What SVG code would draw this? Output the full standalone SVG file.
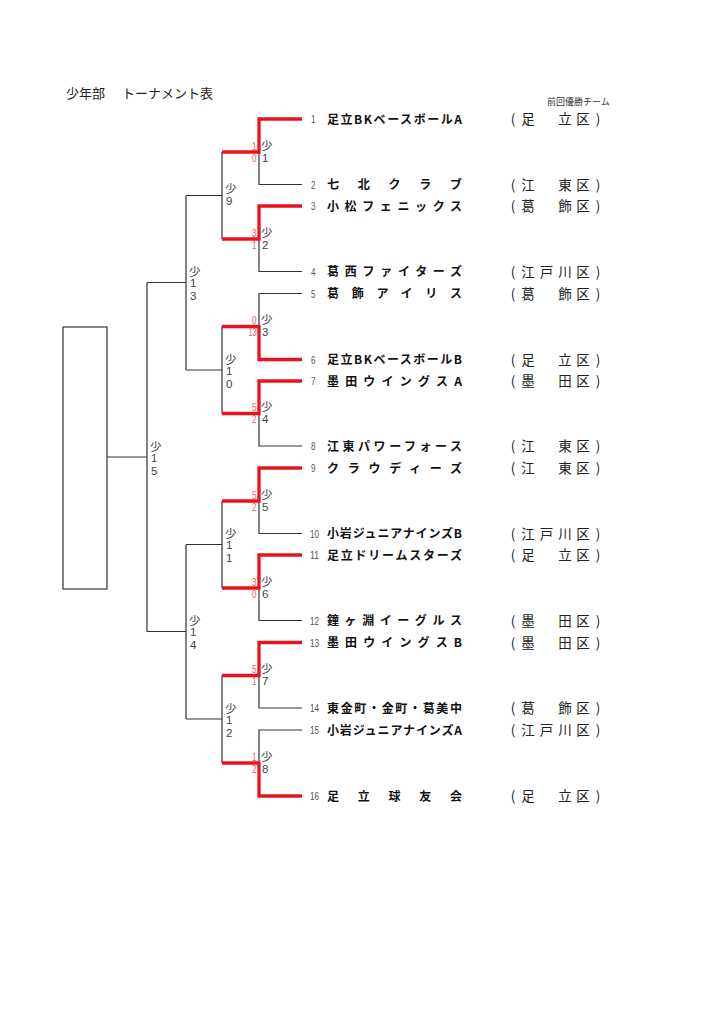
<svg xmlns="http://www.w3.org/2000/svg" width="724" height="1024" viewBox="0 0 724 1024">
<style>
.ln{fill:none;stroke:#333;stroke-width:1.2}
.win{fill:none;stroke:#e8141c;stroke-width:3.3;stroke-linejoin:miter}
.lbl{font-family:"Liberation Sans","Noto Sans CJK JP",sans-serif;font-size:11.5px;fill:#444}
.sc{font-family:"Liberation Sans",sans-serif;font-size:11.5px;fill:#e06060;text-anchor:end}
.num{font-family:"Liberation Sans",sans-serif;font-size:11.5px;fill:#555}
.name{font-family:"Noto Sans CJK JP",sans-serif;font-weight:bold;font-size:12px;fill:#111}
.ward{font-family:"Noto Sans CJK JP",sans-serif;font-size:13.5px;fill:#222;text-anchor:middle}
.ttl{font-family:"Noto Sans CJK JP",sans-serif;font-size:13px;fill:#222}
</style>
<rect width="724" height="1024" fill="#fff"/>
<g id="title"><text class="ttl" x="66" y="98">少年部<tspan x="122">トーナメント表</tspan></text></g>
<g id="prev-champion-label"><text x="547" y="104.5" style="font-family:'Noto Sans CJK JP',sans-serif;font-size:9px;fill:#333">前回優勝チーム</text></g>
<g id="champion-box"><rect x="63" y="327" width="44" height="262" fill="none" stroke="#333" stroke-width="1.2"/></g>

<g id="connectors">
  <path class="ln" d="M302,184.5 H259 V152"/>
  <path class="ln" d="M302,271.5 H259 V239"/>
  <path class="ln" d="M302,293.5 H259 V326.5"/>
  <path class="ln" d="M302,446 H259 V413.5"/>
  <path class="ln" d="M302,533.5 H259 V501"/>
  <path class="ln" d="M302,620.5 H259 V588"/>
  <path class="ln" d="M302,708 H259 V675.5"/>
  <path class="ln" d="M302,730 H259 V763"/>
  <path class="ln" d="M222,152 V239 M222,195.5 H186"/>
  <path class="ln" d="M222,326.5 V413.5 M222,370 H186"/>
  <path class="ln" d="M222,501 V588 M222,544.5 H186"/>
  <path class="ln" d="M222,675.5 V763 M222,719 H186"/>
  <path class="ln" d="M186,195.5 V370 M186,282.5 H147"/>
  <path class="ln" d="M186,544.5 V719 M186,631.5 H147"/>
  <path class="ln" d="M147,282.5 V631.5 M147,457 H107"/>
  <path class="win" d="M302,119 H259 V152 H222"/>
  <path class="win" d="M302,206 H259 V239 H222"/>
  <path class="win" d="M302,359.5 H259 V326.5 H222"/>
  <path class="win" d="M302,381 H259 V413.5 H222"/>
  <path class="win" d="M302,468 H259 V501 H222"/>
  <path class="win" d="M302,555 H259 V588 H222"/>
  <path class="win" d="M302,642.5 H259 V675.5 H222"/>
  <path class="win" d="M302,796 H259 V763 H222"/>
</g>

<g id="match-1"><text class="sc" x="256.5" y="149.5" textLength="4.5" lengthAdjust="spacingAndGlyphs">1</text><text class="sc" x="256.5" y="161.5" textLength="4.5" lengthAdjust="spacingAndGlyphs">0</text><text class="lbl" x="261" y="149.5">少</text><text class="lbl" x="262" y="161.5">1</text></g>
<g id="match-2"><text class="sc" x="256.5" y="236.5" textLength="4.5" lengthAdjust="spacingAndGlyphs">3</text><text class="sc" x="256.5" y="248.5" textLength="4.5" lengthAdjust="spacingAndGlyphs">1</text><text class="lbl" x="261" y="236.5">少</text><text class="lbl" x="262" y="248.5">2</text></g>
<g id="match-3"><text class="sc" x="256.5" y="324" textLength="4.5" lengthAdjust="spacingAndGlyphs">0</text><text class="sc" x="256.5" y="336" textLength="8" lengthAdjust="spacingAndGlyphs">13</text><text class="lbl" x="261" y="324">少</text><text class="lbl" x="262" y="336">3</text></g>
<g id="match-4"><text class="sc" x="256.5" y="411" textLength="4.5" lengthAdjust="spacingAndGlyphs">5</text><text class="sc" x="256.5" y="423" textLength="4.5" lengthAdjust="spacingAndGlyphs">2</text><text class="lbl" x="261" y="411">少</text><text class="lbl" x="262" y="423">4</text></g>
<g id="match-5"><text class="sc" x="256.5" y="498.5" textLength="4.5" lengthAdjust="spacingAndGlyphs">5</text><text class="sc" x="256.5" y="510.5" textLength="4.5" lengthAdjust="spacingAndGlyphs">2</text><text class="lbl" x="261" y="498.5">少</text><text class="lbl" x="262" y="510.5">5</text></g>
<g id="match-6"><text class="sc" x="256.5" y="585.5" textLength="4.5" lengthAdjust="spacingAndGlyphs">3</text><text class="sc" x="256.5" y="597.5" textLength="4.5" lengthAdjust="spacingAndGlyphs">0</text><text class="lbl" x="261" y="585.5">少</text><text class="lbl" x="262" y="597.5">6</text></g>
<g id="match-7"><text class="sc" x="256.5" y="673" textLength="4.5" lengthAdjust="spacingAndGlyphs">5</text><text class="sc" x="256.5" y="685" textLength="4.5" lengthAdjust="spacingAndGlyphs">1</text><text class="lbl" x="261" y="673">少</text><text class="lbl" x="262" y="685">7</text></g>
<g id="match-8"><text class="sc" x="256.5" y="760.5" textLength="4.5" lengthAdjust="spacingAndGlyphs">1</text><text class="sc" x="256.5" y="772.5" textLength="4.5" lengthAdjust="spacingAndGlyphs">2</text><text class="lbl" x="261" y="760.5">少</text><text class="lbl" x="262" y="772.5">8</text></g>

<g id="match-9"><text class="lbl" x="225" y="193">少</text><text class="lbl" x="226" y="205">9</text></g>
<g id="match-10"><text class="lbl" x="225" y="363.5">少</text><text class="lbl" x="226" y="374.5">1</text><text class="lbl" x="226" y="387.5">0</text></g>
<g id="match-11"><text class="lbl" x="225" y="538">少</text><text class="lbl" x="226" y="549">1</text><text class="lbl" x="226" y="562">1</text></g>
<g id="match-12"><text class="lbl" x="225" y="712.5">少</text><text class="lbl" x="226" y="723.5">1</text><text class="lbl" x="226" y="736.5">2</text></g>
<g id="match-13"><text class="lbl" x="189" y="276">少</text><text class="lbl" x="190" y="287">1</text><text class="lbl" x="190" y="300">3</text></g>
<g id="match-14"><text class="lbl" x="189" y="625">少</text><text class="lbl" x="190" y="636">1</text><text class="lbl" x="190" y="649">4</text></g>
<g id="match-15"><text class="lbl" x="150" y="450.5">少</text><text class="lbl" x="151" y="461.5">1</text><text class="lbl" x="151" y="474.5">5</text></g>

<g id="team-1"><text class="num" x="311" y="123" textLength="4.5" lengthAdjust="spacingAndGlyphs">1</text><text class="name" x="327" y="123.5" textLength="135" lengthAdjust="spacing">足立BKベースボールA</text><text class="ward" x="513 528 565 583 598" y="124">(足立区)</text></g>
<g id="team-2"><text class="num" x="311" y="188.5" textLength="4.5" lengthAdjust="spacingAndGlyphs">2</text><text class="name" x="327" y="189" textLength="135" lengthAdjust="spacing">七北クラブ</text><text class="ward" x="513 528 565 583 598" y="189.5">(江東区)</text></g>
<g id="team-3"><text class="num" x="311" y="210" textLength="4.5" lengthAdjust="spacingAndGlyphs">3</text><text class="name" x="327" y="210.5" textLength="135" lengthAdjust="spacing">小松フェニックス</text><text class="ward" x="513 528 565 583 598" y="211">(葛飾区)</text></g>
<g id="team-4"><text class="num" x="311" y="275.5" textLength="4.5" lengthAdjust="spacingAndGlyphs">4</text><text class="name" x="327" y="276" textLength="135" lengthAdjust="spacing">葛西ファイターズ</text><text class="ward" x="513 528 546.5 565 583 598" y="276.5">(江戸川区)</text></g>
<g id="team-5"><text class="num" x="311" y="297.5" textLength="4.5" lengthAdjust="spacingAndGlyphs">5</text><text class="name" x="327" y="298" textLength="135" lengthAdjust="spacing">葛飾アイリス</text><text class="ward" x="513 528 565 583 598" y="298.5">(葛飾区)</text></g>
<g id="team-6"><text class="num" x="311" y="363.5" textLength="4.5" lengthAdjust="spacingAndGlyphs">6</text><text class="name" x="327" y="364" textLength="135" lengthAdjust="spacing">足立BKベースボールB</text><text class="ward" x="513 528 565 583 598" y="364.5">(足立区)</text></g>
<g id="team-7"><text class="num" x="311" y="385" textLength="4.5" lengthAdjust="spacingAndGlyphs">7</text><text class="name" x="327" y="385.5" textLength="135" lengthAdjust="spacing">墨田ウイングスA</text><text class="ward" x="513 528 565 583 598" y="386">(墨田区)</text></g>
<g id="team-8"><text class="num" x="311" y="450" textLength="4.5" lengthAdjust="spacingAndGlyphs">8</text><text class="name" x="327" y="450.5" textLength="135" lengthAdjust="spacing">江東パワーフォース</text><text class="ward" x="513 528 565 583 598" y="451">(江東区)</text></g>
<g id="team-9"><text class="num" x="311" y="472" textLength="4.5" lengthAdjust="spacingAndGlyphs">9</text><text class="name" x="327" y="472.5" textLength="135" lengthAdjust="spacing">クラウディーズ</text><text class="ward" x="513 528 565 583 598" y="473">(江東区)</text></g>
<g id="team-10"><text class="num" x="310" y="537.5" textLength="9" lengthAdjust="spacingAndGlyphs">10</text><text class="name" x="327" y="538" textLength="135" lengthAdjust="spacing">小岩ジュニアナインズB</text><text class="ward" x="513 528 546.5 565 583 598" y="538.5">(江戸川区)</text></g>
<g id="team-11"><text class="num" x="310" y="559" textLength="9" lengthAdjust="spacingAndGlyphs">11</text><text class="name" x="327" y="559.5" textLength="135" lengthAdjust="spacing">足立ドリームスターズ</text><text class="ward" x="513 528 565 583 598" y="560">(足立区)</text></g>
<g id="team-12"><text class="num" x="310" y="624.5" textLength="9" lengthAdjust="spacingAndGlyphs">12</text><text class="name" x="327" y="625" textLength="135" lengthAdjust="spacing">鐘ヶ淵イーグルス</text><text class="ward" x="513 528 565 583 598" y="625.5">(墨田区)</text></g>
<g id="team-13"><text class="num" x="310" y="646.5" textLength="9" lengthAdjust="spacingAndGlyphs">13</text><text class="name" x="327" y="647" textLength="135" lengthAdjust="spacing">墨田ウイングスB</text><text class="ward" x="513 528 565 583 598" y="647.5">(墨田区)</text></g>
<g id="team-14"><text class="num" x="310" y="712" textLength="9" lengthAdjust="spacingAndGlyphs">14</text><text class="name" x="327" y="712.5" textLength="135" lengthAdjust="spacing">東金町・金町・葛美中</text><text class="ward" x="513 528 565 583 598" y="713">(葛飾区)</text></g>
<g id="team-15"><text class="num" x="310" y="734" textLength="9" lengthAdjust="spacingAndGlyphs">15</text><text class="name" x="327" y="734.5" textLength="135" lengthAdjust="spacing">小岩ジュニアナインズA</text><text class="ward" x="513 528 546.5 565 583 598" y="735">(江戸川区)</text></g>
<g id="team-16"><text class="num" x="310" y="800" textLength="9" lengthAdjust="spacingAndGlyphs">16</text><text class="name" x="327" y="800.5" textLength="135" lengthAdjust="spacing">足立球友会</text><text class="ward" x="513 528 565 583 598" y="801">(足立区)</text></g>
</svg>
